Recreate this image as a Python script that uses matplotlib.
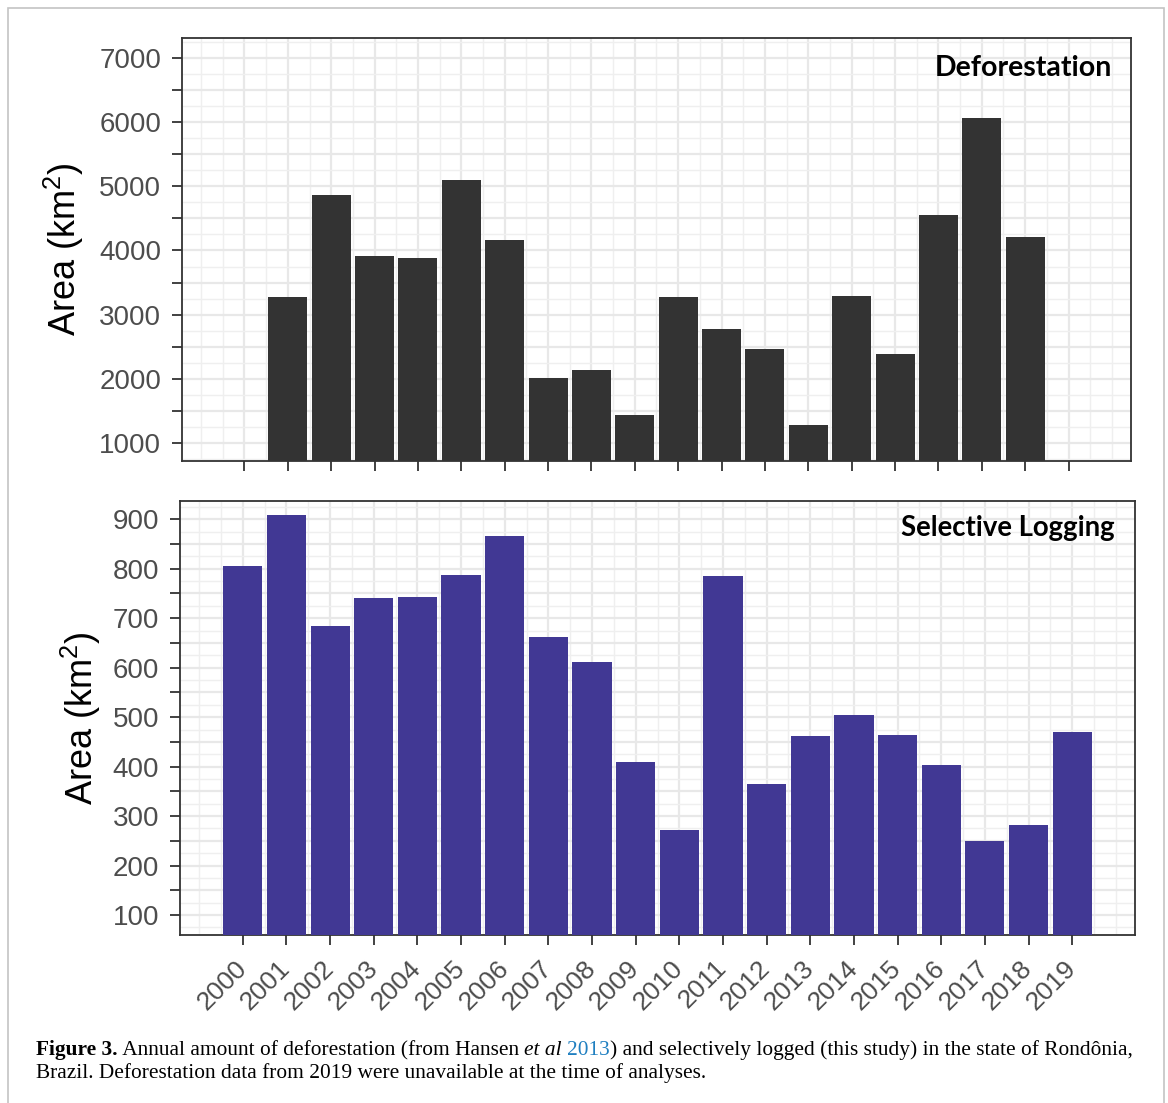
import numpy as np
import matplotlib
matplotlib.use('Agg')
import matplotlib.pyplot as plt
from matplotlib.ticker import MultipleLocator, FixedLocator, FuncFormatter
from matplotlib.patches import Rectangle

# 데이터
years = list(range(2000, 2020))
deforestation = [np.nan, 3270, 4860, 3910, 3880, 5100, 4160, 2015, 2140, 1440,
                 3275, 2780, 2465, 1285, 3290, 2390, 4555, 6060, 4210, np.nan]
logging = [806, 909, 684, 741, 743, 787, 866, 662, 612, 409,
           272, 785, 365, 462, 504, 464, 403, 250, 282, 470]

plt.rcParams['font.family'] = ['Liberation Sans', 'DejaVu Sans']
plt.rcParams['mathtext.fontset'] = 'custom'
plt.rcParams['mathtext.rm'] = 'Liberation Sans'
plt.rcParams['mathtext.it'] = 'Liberation Sans'

W, H = 1168, 1103
fig = plt.figure(figsize=(W / 100, H / 100), dpi=100)

# 바깥 테두리
fig.patches.append(Rectangle((8 / W, -0.01), (1164 - 8) / W, 1 - 8 / H + 0.01,
                             transform=fig.transFigure, fill=False,
                             edgecolor='#c4c4c4', linewidth=1.2))

ax1 = fig.add_axes([182 / W, 1 - 460.7 / H, 949 / W, 422.4 / H])
ax2 = fig.add_axes([180 / W, 1 - 935 / H, 955 / W, 434.3 / H])

x = np.array(years)
d = np.array(deforestation, dtype=float)
ok = ~np.isnan(d)
ax1.bar(x[ok], d[ok], width=0.9, color='#333333', zorder=3)
ax2.bar(x, logging, width=0.9, color='#413894', zorder=3)

ax1.set_ylim(730, 7300)
ax2.set_ylim(59.6, 937.6)


def style(ax, step, labelled):
    ax.set_xlim(1998.56, 2020.44)
    ax.xaxis.set_major_locator(FixedLocator(years))
    ax.xaxis.set_minor_locator(MultipleLocator(0.5))
    ax.yaxis.set_major_locator(MultipleLocator(step))
    ax.yaxis.set_minor_locator(MultipleLocator(step / 2))
    ax.yaxis.set_major_formatter(FuncFormatter(
        lambda v, p: f'{int(round(v))}' if round(v) % labelled == 0 else ''))
    ax.grid(True, which='major', color='#e8e8e8', linewidth=1.6, zorder=0)
    ax.grid(True, which='minor', color='#efefef', linewidth=1.0, zorder=0)
    ax.set_axisbelow(True)
    for s in ax.spines.values():
        s.set_color('#333333')
        s.set_linewidth(1.3)
    ax.tick_params(which='major', length=7, width=1.3, color='#333333',
                   labelcolor='#4d4d4d', labelsize=20, pad=8)
    ax.tick_params(which='minor', length=0)
    ax.set_ylabel('Area (km$^2$)', fontsize=26, color='black')


style(ax1, 500, 1000)
style(ax2, 50, 100)
ax1.tick_params(axis='x', labelbottom=False)
ax2.set_xticks(years)
ax2.set_xticklabels([str(y) for y in years], rotation=45, ha='right',
                    va='center', rotation_mode='anchor')
ax2.tick_params(axis='x', labelsize=19, pad=14)

ax1.yaxis.set_label_coords(-0.1007, 0.5)
ax2.yaxis.set_label_coords(-0.0808, 0.5)

ax1.text(0.98, 0.93, 'Deforestation', transform=ax1.transAxes, ha='right',
         va='center', fontsize=20.5, fontweight='bold', family=['Lato', 'DejaVu Sans'])
ax2.text(0.979, 0.937, 'Selective Logging', transform=ax2.transAxes, ha='right',
         va='center', fontsize=19.8, fontweight='bold', family=['Lato', 'DejaVu Sans'])

# 캡션: 조각을 이어 붙임 (폭은 렌더러로 측정)
serif = ['Liberation Serif', 'DejaVu Serif']
cs = 15.4
renderer = fig.canvas.get_renderer()
line1 = [('Figure 3.', 'normal', 'bold', 'black'),
         (' Annual amount of deforestation (from Hansen ', 'normal', 'normal', 'black'),
         ('et al', 'italic', 'normal', 'black'),
         (' ', 'normal', 'normal', 'black'),
         ('2013', 'normal', 'normal', '#1f7fc0'),
         (') and selectively logged (this study) in the state of Rondônia,',
          'normal', 'normal', 'black')]
xpix = 36
for txt, st, wt, col in line1:
    t = fig.text(xpix / W, 1 - 1055 / H, txt, fontsize=cs, family=serif,
                 style=st, fontweight=wt, color=col, va='baseline', ha='left')
    xpix += t.get_window_extent(renderer).width
fig.text(36 / W, 1 - 1078 / H,
         'Brazil. Deforestation data from 2019 were unavailable at the time of analyses.',
         fontsize=cs, family=serif, va='baseline')

fig.savefig('out.png', dpi=100)
